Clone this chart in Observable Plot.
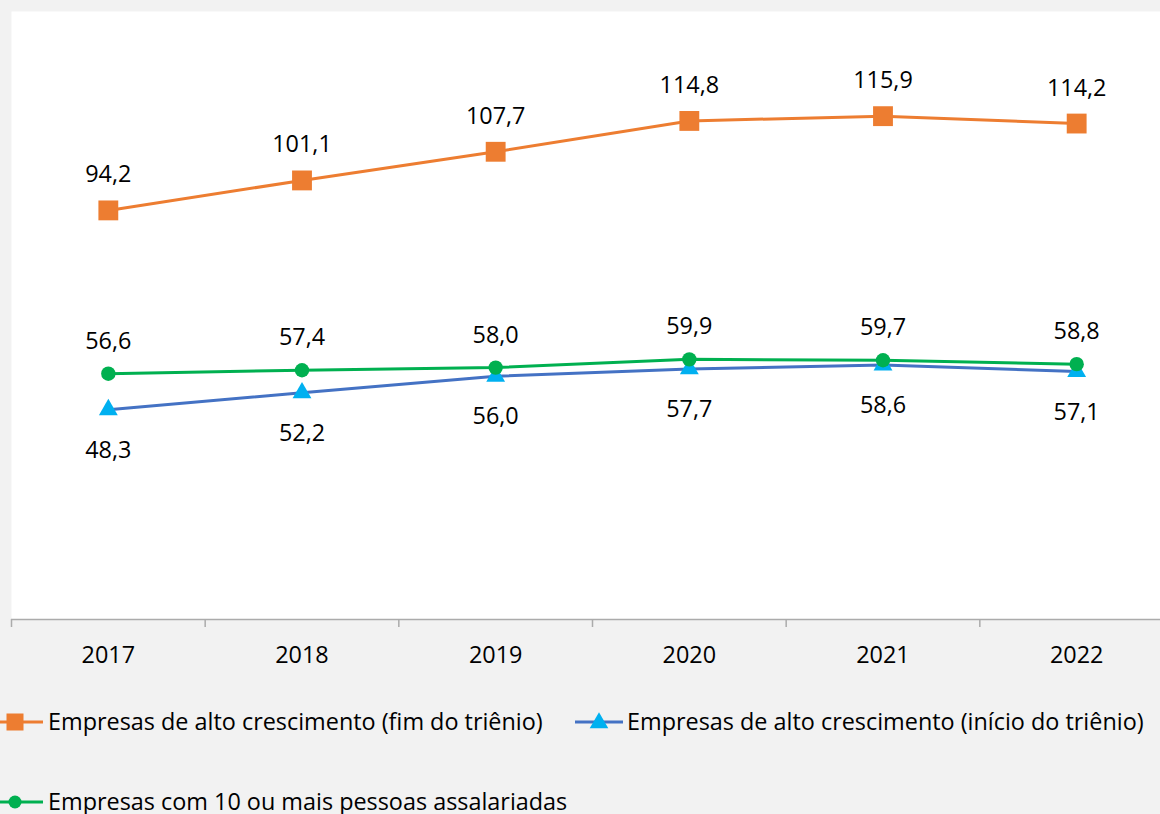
<!DOCTYPE html>
<html>
<head>
<meta charset="utf-8">
<script src="https://cdn.jsdelivr.net/npm/d3@7"></script>
<script src="https://cdn.jsdelivr.net/npm/@observablehq/plot@0.6"></script>
<style>
  html, body { margin: 0; padding: 0; background: #f2f2f2; }
  body { position: relative; width: 1160px; height: 814px; overflow: hidden; font-family: "Open Sans", sans-serif; }
  #chart svg { display: block; }
  #legend { position: absolute; left: 0; top: 680px; }
</style>
</head>
<body>
<div id="chart"></div>
<div id="legend"></div>
<script>
const years = [2017, 2018, 2019, 2020, 2021, 2022];
const fimTrienio = [94.2, 101.1, 107.7, 114.8, 115.9, 114.2];
const inicioTrienio = [48.3, 52.2, 56.0, 57.7, 58.6, 57.1];
const dezOuMais = [56.6, 57.4, 58.0, 59.9, 59.7, 58.8];
const seriesNames = [
  "Empresas de alto crescimento (fim do triênio)",
  "Empresas de alto crescimento (início do triênio)",
  "Empresas com 10 ou mais pessoas assalariadas"
];

const ORANGE = "#ED7D31", BLUE = "#4472C4", CYAN = "#00B0F0", GREEN = "#00B050";
const FONT = "Open Sans, sans-serif";
const FS = 23.4;
const fmt = v => v.toFixed(1).replace(".", ",");
const rows = (vals) => years.map((y, i) => ({year: y, value: vals[i]}));
const fim = rows(fimTrienio), ini = rows(inicioTrienio), dez = rows(dezOuMais);
const boundaries = years.map(y => y - 0.5);

const chart = Plot.plot({
  width: 1160,
  height: 680,
  marginLeft: 11,
  marginRight: 0,
  marginTop: 11,
  marginBottom: 61,
  style: {fontFamily: FONT, fontSize: FS + "px", background: "transparent", color: "#000"},
  x: {type: "linear", domain: [2016.5, 2022.5], range: [11, 1173], axis: null},
  y: {domain: [0, 140], axis: null},
  marks: [
    Plot.frame({fill: "white", stroke: null}),
    Plot.ruleY([0], {stroke: "#ababab", strokeWidth: 1.5}),
    Plot.axisX(boundaries, {tickSize: 8, tickFormat: () => "", label: null, stroke: "#ababab", strokeWidth: 1.5}),
    Plot.text(years, {x: d => d, frameAnchor: "bottom", dy: 43.5, text: d => String(d), fill: "#000", lineAnchor: "bottom"}),
    // fim do triênio
    Plot.line(fim, {x: "year", y: "value", stroke: ORANGE, strokeWidth: 3}),
    Plot.dot(fim, {x: "year", y: "value", symbol: "square", r: 11.2, fill: ORANGE, stroke: null}),
    Plot.text(fim, {x: "year", y: "value", text: d => fmt(d.value), dy: -28, fill: "#000", lineAnchor: "bottom"}),
    // início do triênio
    Plot.line(ini, {x: "year", y: "value", stroke: BLUE, strokeWidth: 3}),
    Plot.dot(ini, {x: "year", y: "value", symbol: "triangle", r: 7, fill: CYAN, stroke: null}),
    Plot.text(ini, {x: "year", y: "value", text: d => fmt(d.value), dy: 48, fill: "#000", lineAnchor: "bottom"}),
    // 10 ou mais
    Plot.line(dez, {x: "year", y: "value", stroke: GREEN, strokeWidth: 3}),
    Plot.dot(dez, {x: "year", y: "value", r: 7.2, fill: GREEN, stroke: null}),
    Plot.text(dez, {x: "year", y: "value", text: d => fmt(d.value), dy: -25, fill: "#000", lineAnchor: "bottom"})
  ]
});
document.getElementById("chart").appendChild(chart);

// Legend (SVG below the chart; y values relative to its top at 680)
const legendItems = [
  {name: seriesNames[0], line: ORANGE, fill: ORANGE, shape: "square", x1: -10, x2: 43, mx: 15, cy: 42, textX: 48},
  {name: seriesNames[1], line: BLUE, fill: CYAN, shape: "triangle", x1: 575, x2: 623, mx: 599, cy: 42, textX: 627},
  {name: seriesNames[2], line: GREEN, fill: GREEN, shape: "circle", x1: -10, x2: 43, mx: 15, cy: 122, textX: 48}
];
const lsvg = d3.select("#legend").append("svg")
  .attr("width", 1160).attr("height", 134)
  .style("display", "block")
  .style("font-family", FONT).style("font-size", FS + "px");
legendItems.forEach(it => {
  const g = lsvg.append("g");
  g.append("line").attr("x1", it.x1).attr("x2", it.x2).attr("y1", it.cy).attr("y2", it.cy)
    .attr("stroke", it.line).attr("stroke-width", 3);
  const sym = it.shape === "square" ? d3.symbolSquare : it.shape === "triangle" ? d3.symbolTriangle : d3.symbolCircle;
  const size = it.shape === "square" ? 17 * 17 : it.shape === "triangle" ? 150 : Math.PI * 6.5 * 6.5;
  g.append("path").attr("d", d3.symbol(sym, size)())
    .attr("transform", `translate(${it.mx},${it.shape === "triangle" ? it.cy + 1 : it.cy})`)
    .attr("fill", it.fill);
  g.append("text").attr("x", it.textX).attr("y", it.cy + 8.2).attr("fill", "#000").text(it.name);
});
</script>
</body>
</html>
